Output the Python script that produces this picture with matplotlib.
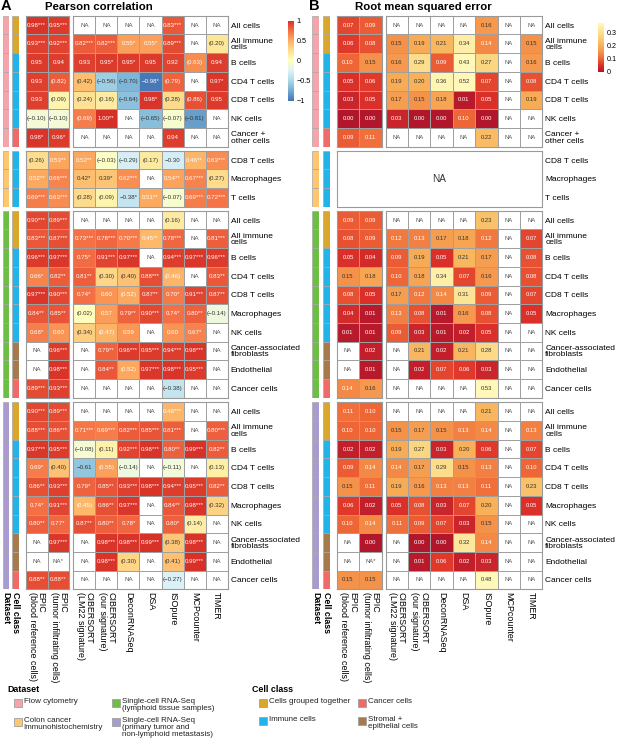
import numpy as np
import matplotlib
matplotlib.use("Agg")
import matplotlib.pyplot as plt
from matplotlib.colors import LinearSegmentedColormap, Normalize
from matplotlib.cm import ScalarMappable
from matplotlib.patches import Rectangle

plt.rcParams['font.family'] = ['Liberation Sans', 'DejaVu Sans']

W, H = 617, 747

# ---- data ----
methods = ["EPIC\n(blood reference cells)", "EPIC\n(tumor infiltrating cells)",
           "CIBERSORT\n(LM22 signature)", "CIBERSORT\n(our signature)",
           "DeconRNASeq", "DSA", "ISOpure", "MCPcounter", "TIMER"]

rows_flow = ["All cells", "All immune\ncells", "B cells", "CD4 T cells", "CD8 T cells",
             "NK cells", "Cancer +\nother cells"]
rows_ihc = ["CD8 T cells", "Macrophages", "T cells"]
rows_sc = ["All cells", "All immune\ncells", "B cells", "CD4 T cells", "CD8 T cells",
           "Macrophages", "NK cells", "Cancer-associated\nfibroblasts", "Endothelial", "Cancer cells"]

class_flow = ["grouped", "grouped", "immune", "immune", "immune", "immune", "cancer"]
class_ihc = ["immune", "immune", "immune"]
class_sc = ["grouped", "grouped", "immune", "immune", "immune", "immune", "immune",
            "stromal", "stromal", "cancer"]

pearson_flow = [
    ["0.98***", "0.95***", "NA", "NA", "NA", "NA", "0.83***", "NA", "NA"],
    ["0.93***", "0.92***", "0.82***", "0.82***", "0.55*", "0.55*", "0.89***", "NA", "(0.20)"],
    ["0.95", "0.94", "0.93", "0.95*", "0.95*", "0.95", "0.92", "(0.63)", "0.94"],
    ["0.93", "(0.82)", "(0.42)", "(−0.56)", "(−0.70)", "−0.98*", "(0.79)", "NA", "0.97*"],
    ["0.93", "(0.09)", "(0.24)", "(0.16)", "(−0.64)", "0.98*", "(0.28)", "(0.86)", "0.95"],
    ["(−0.10)", "(−0.10)", "(0.69)", "1.00**", "NA", "(−0.65)", "(−0.07)", "(−0.81)", "NA"],
    ["0.98*", "0.96*", "NA", "NA", "NA", "NA", "0.94", "NA", "NA"],
]
pearson_ihc = [
    ["(0.26)", "0.53**", "0.52**", "(−0.03)", "(−0.29)", "(0.17)", "−0.30", "0.46**", "0.63***"],
    ["0.52**", "0.66***", "0.42*", "0.39*", "0.62***", "NA", "0.54**", "0.67***", "(0.27)"],
    ["0.69***", "0.63***", "(0.28)", "(0.09)", "−0.38*", "0.51**", "(−0.07)", "0.69***", "0.72***"],
]
pearson_lymph = [
    ["0.90***", "0.89***", "NA", "NA", "NA", "NA", "(0.16)", "NA", "NA"],
    ["0.83***", "0.87***", "0.73***", "0.78***", "0.70***", "0.45**", "0.78***", "NA", "0.81***"],
    ["0.96***", "0.97***", "0.75*", "0.91***", "0.97***", "NA", "0.94***", "0.97***", "0.96***"],
    ["0.66*", "0.82**", "0.81**", "(0.30)", "(0.40)", "0.88***", "(0.46)", "NA", "0.83**"],
    ["0.97***", "0.90***", "0.74*", "0.60", "(0.52)", "0.87**", "0.70*", "0.91***", "0.87**"],
    ["0.84**", "0.85**", "(0.02)", "0.57", "0.79**", "0.90***", "0.74*", "0.80**", "(−0.14)"],
    ["0.68*", "0.60", "(0.34)", "(0.47)", "0.59", "NA", "0.60", "0.67*", "NA"],
    ["NA", "0.96***", "NA", "0.79**", "0.96***", "0.95***", "0.94***", "0.98***", "NA"],
    ["NA", "0.98***", "NA", "0.84**", "(0.52)", "0.97***", "0.98***", "0.95***", "NA"],
    ["0.89***", "0.93***", "NA", "NA", "NA", "NA", "(−0.38)", "NA", "NA"],
]
pearson_tumor = [
    ["0.90***", "0.89***", "NA", "NA", "NA", "NA", "0.46***", "NA", "NA"],
    ["0.88***", "0.86***", "0.71***", "0.69***", "0.82***", "0.85***", "0.81***", "NA", "0.80***"],
    ["0.97***", "0.95***", "(−0.08)", "(0.11)", "0.92***", "0.98***", "0.80**", "0.99***", "0.82**"],
    ["0.69*", "(0.40)", "−0.61", "(0.55)", "(−0.14)", "NA", "(−0.11)", "NA", "(0.13)"],
    ["0.86**", "0.93***", "0.79*", "0.85**", "0.93***", "0.98***", "0.94***", "0.95***", "0.82**"],
    ["0.74*", "0.91***", "(0.45)", "0.86**", "0.97***", "NA", "0.84**", "0.98***", "(0.32)"],
    ["0.80**", "0.77*", "0.87**", "0.80**", "0.78*", "NA", "0.80*", "(0.14)", "NA"],
    ["NA", "0.97***", "NA", "0.98***", "0.98***", "0.99***", "(0.38)", "0.98***", "NA"],
    ["NA", "NA*", "NA", "0.98***", "(0.30)", "NA", "(0.41)", "0.99***", "NA"],
    ["0.88**", "0.88**", "NA", "NA", "NA", "NA", "(−0.27)", "NA", "NA"],
]

rmse_flow = [
    ["0.07", "0.09", "NA", "NA", "NA", "NA", "0.16", "NA", "NA"],
    ["0.06", "0.08", "0.15", "0.19", "0.21", "0.34", "0.14", "NA", "0.15"],
    ["0.10", "0.15", "0.16", "0.29", "0.09", "0.43", "0.27", "NA", "0.16"],
    ["0.05", "0.06", "0.19", "0.20", "0.36", "0.52", "0.07", "NA", "0.08"],
    ["0.03", "0.05", "0.17", "0.15", "0.18", "0.01", "0.05", "NA", "0.19"],
    ["0.00", "0.00", "0.03", "0.00", "0.00", "0.10", "0.00", "NA", "NA"],
    ["0.09", "0.11", "NA", "NA", "NA", "NA", "0.22", "NA", "NA"],
]
rmse_ihc = None  # no RMSE for immunohistochemistry
rmse_lymph = [
    ["0.09", "0.09", "NA", "NA", "NA", "NA", "0.23", "NA", "NA"],
    ["0.08", "0.09", "0.12", "0.13", "0.17", "0.18", "0.12", "NA", "0.07"],
    ["0.05", "0.04", "0.09", "0.19", "0.05", "0.21", "0.17", "NA", "0.08"],
    ["0.15", "0.18", "0.10", "0.18", "0.34", "0.07", "0.16", "NA", "0.08"],
    ["0.08", "0.05", "0.17", "0.12", "0.14", "0.31", "0.09", "NA", "0.07"],
    ["0.04", "0.01", "0.13", "0.08", "0.01", "0.16", "0.08", "NA", "0.05"],
    ["0.01", "0.01", "0.09", "0.03", "0.01", "0.02", "0.05", "NA", "NA"],
    ["NA", "0.02", "NA", "0.21", "0.02", "0.21", "0.28", "NA", "NA"],
    ["NA", "0.01", "NA", "0.02", "0.07", "0.06", "0.03", "NA", "NA"],
    ["0.14", "0.16", "NA", "NA", "NA", "NA", "0.53", "NA", "NA"],
]
rmse_tumor = [
    ["0.11", "0.10", "NA", "NA", "NA", "NA", "0.21", "NA", "NA"],
    ["0.10", "0.10", "0.15", "0.17", "0.15", "0.13", "0.14", "NA", "0.13"],
    ["0.02", "0.02", "0.19", "0.27", "0.03", "0.20", "0.06", "NA", "0.07"],
    ["0.09", "0.14", "0.14", "0.17", "0.29", "0.15", "0.13", "NA", "0.10"],
    ["0.15", "0.11", "0.19", "0.16", "0.13", "0.13", "0.11", "NA", "0.23"],
    ["0.06", "0.02", "0.05", "0.08", "0.03", "0.07", "0.20", "NA", "0.05"],
    ["0.10", "0.14", "0.11", "0.09", "0.07", "0.03", "0.15", "NA", "NA"],
    ["NA", "0.00", "NA", "0.00", "0.00", "0.32", "0.14", "NA", "NA"],
    ["NA", "NA*", "NA", "0.01", "0.06", "0.02", "0.03", "NA", "NA"],
    ["0.15", "0.15", "NA", "NA", "NA", "NA", "0.48", "NA", "NA"],
]

dataset_names = ["Flow cytometry", "Colon cancer\nImmunohistochemistry",
                 "Single-cell RNA-Seq\n(lymphoid tissue samples)",
                 "Single-cell RNA-Seq\n(primary tumor and\nnon-lymphoid metastasis)"]
dataset_colors = ["#F4A5AC", "#FDC66F", "#6DBE45", "#A99BCF"]
class_keys = ["grouped", "immune", "cancer", "stromal"]
class_names = ["Cells grouped together", "Immune cells", "Cancer cells", "Stromal +\nepithelial cells"]
class_colors = ["#D9A72A", "#22B4E9", "#F06A6A", "#A67A4C"]
class_col = dict(zip(class_keys, class_colors))

blocks_rows = [rows_flow, rows_ihc, rows_sc, rows_sc]
blocks_class = [class_flow, class_ihc, class_sc, class_sc]
pearson_blocks = [pearson_flow, pearson_ihc, pearson_lymph, pearson_tumor]
rmse_blocks = [rmse_flow, rmse_ihc, rmse_lymph, rmse_tumor]

# ---- layout (pixels) ----
block_top = [15.7, 150.7, 210.7, 402.3]
row_h = 18.7

cmap_r = LinearSegmentedColormap.from_list("pear", [
    (0.0, "#4575b4"), (0.125, "#74add1"), (0.25, "#abd9e9"), (0.375, "#e0f3f8"),
    (0.5, "#ffffbf"), (0.625, "#fee090"), (0.75, "#fdae61"), (0.875, "#f46d43"),
    (1.0, "#d73027")])
cmap_r.set_bad("white")
norm_r = Normalize(-1, 1)

rm_max = 0.37
cmap_e = LinearSegmentedColormap.from_list("rmse", [
    (0.0, "#B2162B"), (0.05 / rm_max, "#DC2F2A"), (0.10 / rm_max, "#EF6636"),
    (0.15 / rm_max, "#F5924A"), (0.20 / rm_max, "#F8B158"), (0.27 / rm_max, "#FAD680"),
    (1.0, "#FFF8B8")])
cmap_e.set_bad("white")
norm_e = Normalize(0, rm_max)

fig = plt.figure(figsize=(W / 100, H / 100), dpi=100)


def px_axes(x0, y0, x1, y1):
    return fig.add_axes([x0 / W, 1 - y1 / H, (x1 - x0) / W, (y1 - y0) / H])


def to_num(s):
    if s.startswith("NA"):
        return np.nan
    return float(s.strip("()*").replace("−", "-"))


def white_text(v, kind):
    if kind == "r":
        return v > 0.44 or v < -0.9
    return v < 0.145


def strip(ax, colors):
    n = len(colors)
    ax.barh(np.arange(n), 1, height=1, left=0, color=colors, edgecolor="#a8a8a8", linewidth=0.5)
    ax.set_xlim(0, 1)
    ax.set_ylim(n - 0.5, -0.5)
    ax.set_yticks([])
    ax.set_xticks([])
    for s in ax.spines.values():
        s.set_visible(False)


def heat(ax, cells, cmap, norm, kind, fs):
    vals = np.array([[to_num(c) for c in r] for r in cells])
    m = np.ma.masked_invalid(vals)
    nr, nc = vals.shape
    ax.pcolormesh(np.arange(nc + 1), np.arange(nr + 1), m, cmap=cmap, norm=norm,
                  edgecolors="#a0a0a0", linewidth=0.5)
    for i in range(nr):
        for j in range(nc):
            v = vals[i, j]
            if np.isnan(v):
                col = "#555555"
            else:
                col = "white" if white_text(v, kind) else "#333333"
            ax.text(j + 0.5, i + 0.5, cells[i][j], ha="center", va="center",
                    fontsize=fs, color=col)
    ax.set_xlim(0, nc)
    ax.set_ylim(nr, 0)
    ax.set_xticks([])
    ax.set_yticks([])
    for s in ax.spines.values():
        s.set_color("#9a9a9a")
        s.set_linewidth(0.8)


def row_labels(ax, labels):
    ax.yaxis.tick_right()
    ax.set_yticks(np.arange(len(labels)) + 0.5)
    ax.set_yticklabels(labels, fontsize=6, linespacing=0.9)
    ax.tick_params(axis="y", length=0, pad=2.2)


def x_labels(ax, labels, bold=False):
    ax.set_xticks(np.arange(len(labels)) + 0.5)
    ax.set_xticklabels(labels, rotation=270, ha="center", va="top", fontsize=6.4,
                       linespacing=0.95, fontweight="bold" if bold else "normal")
    for t in ax.get_xticklabels():
        t.set_multialignment("left")
    ax.tick_params(axis="x", length=0, pad=2.2)


panels = [
    dict(x=dict(ds=(2.7, 8.7), cc=(12.4, 18.7), epic=(25.7, 69.3), rest=(73.3, 227.7)),
         data=pearson_blocks, cmap=cmap_r, norm=norm_r, kind="r", fs=4.4),
    dict(x=dict(ds=(312.3, 319.0), cc=(323.3, 330.0), epic=(336.7, 381.7), rest=(385.7, 542.3)),
         data=rmse_blocks, cmap=cmap_e, norm=norm_e, kind="e", fs=4.2),
]

for p in panels:
    gx = p["x"]
    for b in range(4):
        rows = blocks_rows[b]
        n = len(rows)
        y0 = block_top[b]
        y1 = y0 + n * row_h
        last = b == 3
        ax_ds = px_axes(gx["ds"][0], y0, gx["ds"][1], y1)
        strip(ax_ds, [dataset_colors[b]] * n)
        ax_cc = px_axes(gx["cc"][0], y0, gx["cc"][1], y1)
        strip(ax_cc, [class_col[c] for c in blocks_class[b]])
        cells = p["data"][b]
        if cells is None:
            ax = px_axes(gx["epic"][0], y0, gx["rest"][1], y1)
            ax.set_xlim(0, 1)
            ax.set_ylim(n, 0)
            ax.set_xticks([])
            ax.text(0.5, n / 2, "NA", ha="center", va="center", fontsize=7.2, color="#333333")
            for s in ax.spines.values():
                s.set_color("#9a9a9a")
                s.set_linewidth(0.8)
            row_labels(ax, rows)
            continue
        ax_e = px_axes(gx["epic"][0], y0, gx["epic"][1], y1)
        heat(ax_e, [r[:2] for r in cells], p["cmap"], p["norm"], p["kind"], p["fs"])
        ax_o = px_axes(gx["rest"][0], y0, gx["rest"][1], y1)
        heat(ax_o, [r[2:] for r in cells], p["cmap"], p["norm"], p["kind"], p["fs"])
        row_labels(ax_o, rows)
        if last:
            x_labels(ax_e, methods[:2])
            x_labels(ax_o, methods[2:])
            x_labels(ax_ds, ["Dataset"], bold=True)
            x_labels(ax_cc, ["Cell class"], bold=True)

# ---- colorbars ----
cax_a = px_axes(288, 20.5, 293.5, 100.5)
cb = fig.colorbar(ScalarMappable(norm=norm_r, cmap=cmap_r), cax=cax_a)
cb.set_ticks([1, 0.5, 0, -0.5, -1])
cb.set_ticklabels(["1", "0.5", "0", "−0.5", "−1"])
cb.outline.set_visible(False)
cax_a.tick_params(length=0, labelsize=5.2, pad=2)

cax_b = px_axes(598, 23, 603.5, 72)
cb2 = fig.colorbar(ScalarMappable(norm=norm_e, cmap=cmap_e), cax=cax_b)
cb2.set_ticks([0, 0.1, 0.2, 0.3])
cb2.set_ticklabels(["0", "0.1", "0.2", "0.3"])
cb2.outline.set_visible(False)
cax_b.tick_params(length=0, labelsize=5.2, pad=2)

# ---- titles ----
fig.text(1 / W, 1 - 5.5 / H, "A", fontsize=10.5, fontweight="bold", va="center")
fig.text(45 / W, 1 - 6.5 / H, "Pearson correlation", fontsize=8.2, fontweight="bold", va="center")
fig.text(309 / W, 1 - 5.5 / H, "B", fontsize=10.5, fontweight="bold", va="center")
fig.text(355 / W, 1 - 6.5 / H, "Root mean squared error", fontsize=8.2, fontweight="bold", va="center")


# ---- legends ----
def legend_item(x, y, color, label):
    fig.add_artist(Rectangle((x / W, 1 - (y + 8) / H), 8 / W, 8 / H, transform=fig.transFigure,
                             facecolor=color, edgecolor="#a0a0a0", linewidth=0.6))
    fig.text((x + 10) / W, 1 - (y - 1) / H, label, fontsize=5.8, va="top", ha="left",
             linespacing=0.95, color="#222222")


fig.text(7.3 / W, 1 - 690 / H, "Dataset", fontsize=6.4, fontweight="bold", va="center")
ds_pos = [(13.5, 699), (13.5, 718), (112, 699), (112, 718)]
for (x, y), c, name in zip(ds_pos, dataset_colors, dataset_names):
    legend_item(x, y, c, name)

fig.text(251.7 / W, 1 - 690 / H, "Cell class", fontsize=6.4, fontweight="bold", va="center")
cc_pos = [(259, 699), (259, 717), (357.5, 699), (357.5, 717)]
for (x, y), c, name in zip(cc_pos, class_colors, class_names):
    legend_item(x, y, c, name)

fig.savefig("out.png", dpi=100)
